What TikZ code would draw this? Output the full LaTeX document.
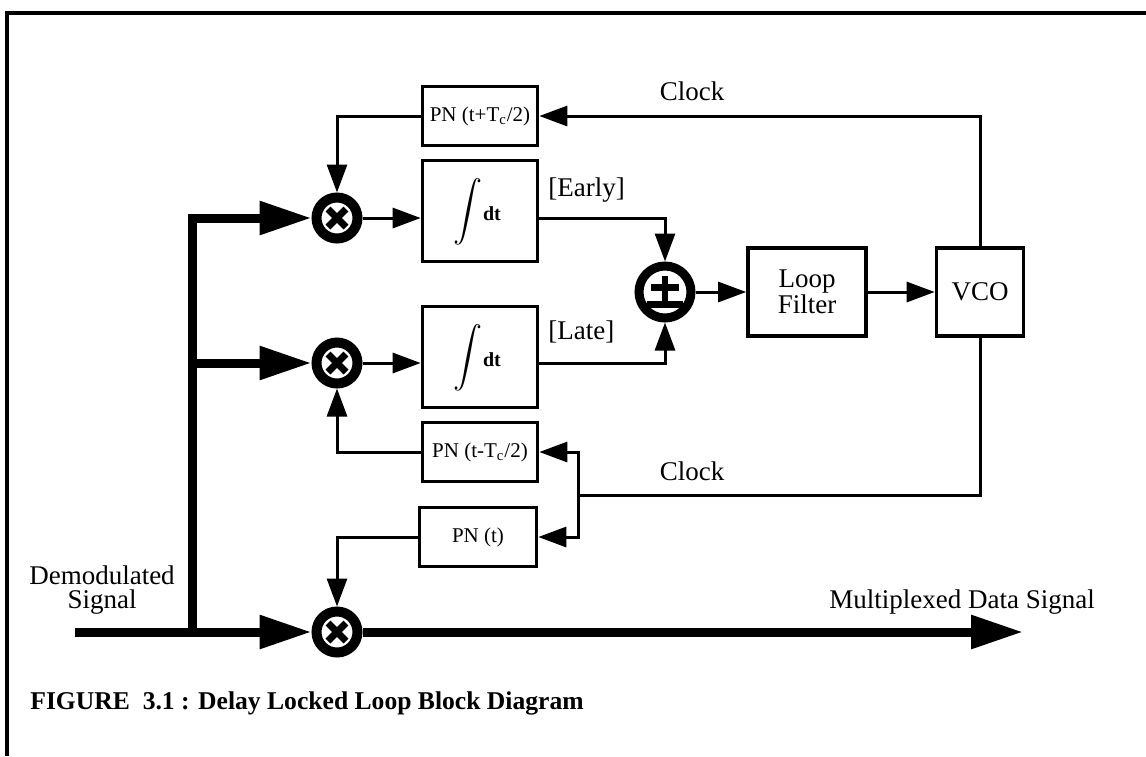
\documentclass[tikz,border=0pt]{standalone}
\usepackage{fontspec}
\setmainfont{Liberation Serif}
\usetikzlibrary{arrows.meta,positioning,calc}

\begin{document}
\begin{tikzpicture}[x=0.5pt, y=-0.5pt, font=\fontsize{13.5}{12}\selectfont, >={Triangle[length=14pt,width=10pt]},
wire/.style={line width=1.5pt},
bus/.style={line width=4.5pt, miter limit=4, -{Triangle[length=26pt,width=16pt]}},
blk/.style={draw, line width=1.8pt, align=center, inner sep=0pt, minimum width=57.5pt},
pnbox/.style={blk, minimum height=29.5pt, font=\fontsize{10.5}{12}\selectfont},
intbox/.style={blk, minimum height=50.5pt},
mix/.style={circle, draw, line width=5pt, minimum size=20.5pt, inner sep=0pt,
  path picture={\draw[line width=3.5pt] ($(path picture bounding box.center)+(-9,-9)$) -- ($(path picture bounding box.center)+(9,9)$)
    ($(path picture bounding box.center)+(-9,9)$) -- ($(path picture bounding box.center)+(9,-9)$);}},
lbl/.style={inner sep=1pt}]
\useasboundingbox (0,0) rectangle (1146,756);
% frame
\draw[line width=2pt] (7,756) -- (7,13) -- (1146,13);
% blocks
\node[pnbox] (pnE) at (480,116) {PN (t+T\textsubscript{c}/2)};
\node[intbox] (intE) at (480,211) {};
\node[intbox] (intL) at (480,357) {};
\node[pnbox] (pnL) at (480,452) {PN (t-T\textsubscript{c}/2)};
\node[pnbox, minimum width=58.5pt] (pn0) at (478,537) {PN (t)};
\node[blk, minimum width=59pt, minimum height=44pt] (lf) at (807,292) {Loop\\Filter};
\node[blk, minimum width=43.5pt, minimum height=44pt] (vco) at (980,292) {VCO};
\foreach \b in {intE,intL}{
  \node[inner sep=0pt] at ($(\b.center)+(-12,1)$) {\scalebox{1.45}[1.5]{$\displaystyle\int$}};
  \node[inner sep=0pt, font=\fontsize{10}{10}\selectfont\bfseries] at ($(\b.center)+(12,3)$) {dt};
}
% mixers and summer
\node[mix] (mE) at (337,218) {};
\node[mix] (mL) at (337,363) {};
\node[mix] (m0) at (337,632) {};
\node[circle, draw, line width=4.5pt, minimum size=26pt, inner sep=0pt] (sum) at (665,292) {};
\draw[line width=3pt] ($(sum)+(0,-16)$) -- ($(sum)+(0,12)$);
\draw[line width=3.5pt] ($(sum)+(-14,-5)$) -- ($(sum)+(14,-5)$);
\draw[line width=3.5pt] ($(sum)+(-18,12)$) -- ($(sum)+(18,12)$);
% signal bus
\coordinate (din) at (75,632);
\coordinate (tap) at (192,632);
\coordinate (dout) at (1023,632);
\coordinate (clk) at (578,495);
\draw[bus] (din) -- (m0);
\draw[bus] (tap) |- (mE);
\draw[bus] (tap |- mL) -- (mL);
\draw[bus] (m0) -- (dout);
% loop
\draw[wire, ->] (mE) -- (intE.west |- mE);
\draw[wire, ->] (mL) -- (intL.west |- mL);
\draw[wire, ->] (intE.east |- mE) -| (sum.north);
\draw[wire, ->] (intL.east |- mL) -| (sum.south);
\draw[wire, ->] (sum) -- (lf);
\draw[wire, ->] (lf) -- (vco);
\draw[wire, ->] (vco.north) |- (pnE.east);
\draw[wire, ->] (pnE.west) -| (mE.north);
\draw[wire] (vco.south) |- (clk);
\draw[wire, ->] (clk) |- (pnL.east);
\draw[wire, ->] (clk) |- (pn0.east);
\draw[wire, ->] (pnL.west) -| (mL.south);
\draw[wire, ->] (pn0.west) -| (m0.north);
% labels
\node[lbl] (clkE) at (692,91) {Clock};
\node[lbl] (clkL) at (692,471) {Clock};
\node[lbl, anchor=west] (early) at (546,190) {[Early]};
\node[lbl, anchor=west] (late) at (546,332) {[Late]};
\node[lbl, align=center] (demod) at (102,590) {Demodulated\\Signal};
\node[lbl] (mux) at (962,602) {Multiplexed Data Signal};
\node[lbl, anchor=west, font=\fontsize{12.8}{15}\selectfont\bfseries] (cap) at (28,703) {FIGURE\ \ 3.1 : Delay Locked Loop Block Diagram};
\end{tikzpicture}
\end{document}
